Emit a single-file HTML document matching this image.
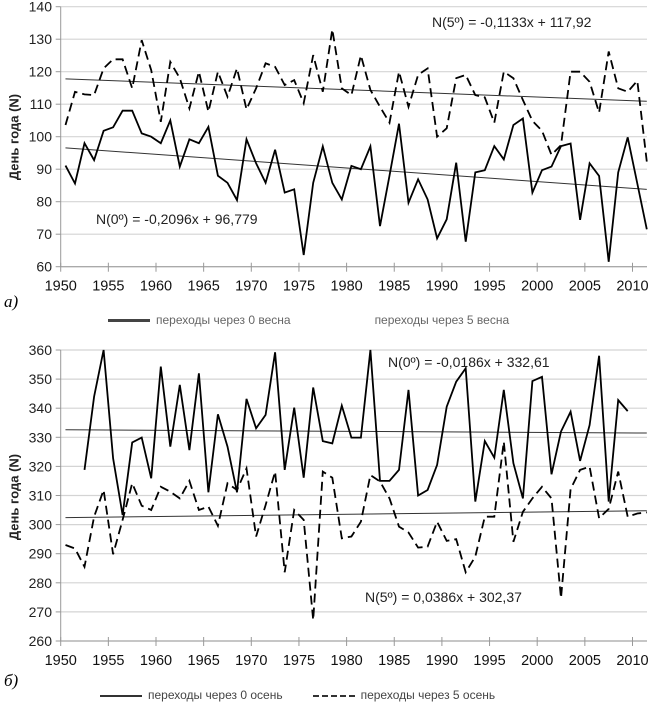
<!DOCTYPE html>
<html><head><meta charset="utf-8"><style>
html,body{margin:0;padding:0;background:#fff;width:655px;height:695px;overflow:hidden}
svg{display:block;font-family:"Liberation Sans",sans-serif}
</style></head><body>
<svg id="c" width="655" height="695"></svg>
<script>
const years=[];for(let y=1950;y<=2011;y++)years.push(y);
const xTicks=[1950,1955,1960,1965,1970,1975,1980,1985,1990,1995,2000,2005,2010];
const topTicks=[60,70,80,90,100,110,120,130,140];
const botTicks=[260,270,280,290,300,310,320,330,340,350,360];
const top0=[91.1,85.6,98,92.8,101.8,102.9,108,108,101,100,98,105,90.8,99.2,98,103,88,85.8,80.5,99.2,91.8,85.8,96,82.8,83.8,63.6,85.8,97,85.8,80.7,91,90,97,72.5,88,104,79.7,86.9,80.7,68.7,74.6,92,67.7,89,89.7,97.1,93,103.6,105.6,82.8,89.7,90.8,97.1,97.9,74.4,91.8,87.9,61.5,89,99.8,85.6,71.5];
const top5=[103.6,113.8,113,112.8,121,123.8,123.8,114.9,129.7,120.5,104.6,123,118,108.7,120,107.7,120,112.3,121,108.4,114.9,122.6,121.5,115.9,117.4,110.3,125.1,113.8,133,114.9,112.8,125,114.4,109.2,104.3,120,109.2,119,121,100,102.6,118,119,112.8,112.1,104.3,120,118,111.3,104.9,101.8,94.4,97.4,120,120,116.9,107.4,126.2,114.9,113.8,117.2,92.3];
const bot0=[null,null,318.8,344,360,322.8,303.3,328.2,329.9,315.9,354.3,326.8,348,325.6,352,311.1,337.9,326.8,311.1,343.2,333.1,337.7,359.2,318.8,340.2,316.1,347.1,328.7,327.9,340.9,329.9,329.9,360,315,315,318.8,346.3,310,311.9,320.5,340.5,349.1,353.7,307.9,328.7,323,346.3,321.1,309,349.3,350.8,317.3,332,338.8,321.9,334.2,358,307.9,342.8,339,null,null];
const bot5=[293,291.8,285.5,302.7,311.9,289.8,301.6,314.2,306.5,305,313,311.3,309,315,305,306.2,299.6,314.2,311.9,319.3,295.9,306.7,318.2,283.6,305,301.6,267.2,318.2,316.1,295.3,295.9,301,317,314.8,309,299.3,297.3,292.1,292.4,301,294.4,295,283.6,289,302.7,302.7,328.5,294.1,304.4,309,313,309,274.7,312.2,318.8,319.9,302.2,305.4,318.2,302.7,303.8,304.2];
const trends={top0:[-0.2096,96.779],top5:[-0.1133,117.92],bot0:[-0.0186,332.61],bot5:[0.0386,302.37]};

const NS="http://www.w3.org/2000/svg";const svg=document.getElementById('c');
function el(t,a,p){const e=document.createElementNS(NS,t);for(const k in a)e.setAttribute(k,a[k]);(p||svg).appendChild(e);return e;}
const X0=60.7,XS=9.53,XEND=647;
const xTick=y=>X0+(y-1950)*XS;
const xPt=i=>X0+XS/2+i*XS;

function panel(name,yTop,yBot,vMin,vMax,ticks,s0,s5,t0,t5,eqs){
  const g=el('g',{});
  const yv=v=>yBot-(v-vMin)/(vMax-vMin)*(yBot-yTop);
  ticks.forEach(t=>{
    const l=el('line',{x1:X0,x2:XEND,y1:yv(t),y2:yv(t),stroke:'#d4d4d4','stroke-width':1.2},g);
    
    const k=el('line',{x1:X0-5,x2:X0,y1:yv(t),y2:yv(t),stroke:'#999'},g);
    
    const tx=el('text',{x:52,y:yv(t)+5,'text-anchor':'end','font-size':14,fill:'#222'},g);tx.textContent=t;
    
  });
  const ax=el('line',{x1:X0,x2:X0,y1:yTop,y2:yBot,stroke:'#999'},g);
  
  const xa=el('line',{x1:X0,x2:XEND,y1:yBot,y2:yBot,stroke:'#999'},g);
  
  xTicks.forEach(y=>{
    const k=el('line',{x1:xTick(y),x2:xTick(y),y1:yBot-4,y2:yBot+5,stroke:'#999'},g);
    
    const tx=el('text',{x:xTick(y),y:yBot+24,'text-anchor':'middle','font-size':14.5,fill:'#111'},g);tx.textContent=y;
    
  });
  function tl(tr,nm){const [a,b]=tr;const i0=0,i1=years.length-1;
    const l=el('line',{x1:xPt(i0),y1:yv(a*(i0+1)+b),x2:xPt(i1),y2:yv(a*(i1+1)+b),stroke:'#333','stroke-width':1},g);
    }
  tl(t0,'trend-line-0');tl(t5,'trend-line-5');
  function ser(d,nm,dash){let p='',m=true;d.forEach((v,i)=>{if(v==null){m=true;return;}p+=(m?'M':'L')+xPt(i).toFixed(1)+' '+yv(v).toFixed(1)+' ';m=false;});
    const a={d:p,fill:'none',stroke:'#000','stroke-width':1.8,'stroke-linejoin':'miter'};if(dash)a['stroke-dasharray']='9 5';
    const e=el('path',a,g);}
  ser(s5,'series-5-deg',true);ser(s0,'series-0-deg',false);
  eqs.forEach(q=>{const t=el('text',{x:q[0],y:q[1],'font-size':14,fill:'#222'},g);t.textContent=q[2];
    });
}
panel('panel-a',6.7,266.7,60,140,topTicks,top0,top5,trends.top0,trends.top5,[[96,224,'N(0º) = -0,2096x + 96,779'],[432,27,'N(5º) = -0,1133x + 117,92']]);
panel('panel-b',350,641,260,360,botTicks,bot0,bot5,trends.bot0,trends.bot5,[[388,367,'N(0º) = -0,0186x + 332,61'],[365,602,'N(5º) = 0,0386x + 302,37']]);
</script>
<div style="position:absolute;left:0;top:0;width:655px;height:695px;pointer-events:none">
<div style="position:absolute;left:14px;top:137px;transform:translate(-50%,-50%) rotate(-90deg);white-space:nowrap;font:bold 13px 'Liberation Sans',sans-serif;color:#222">День года (N)</div>
<div style="position:absolute;left:14px;top:497px;transform:translate(-50%,-50%) rotate(-90deg);white-space:nowrap;font:bold 13px 'Liberation Sans',sans-serif;color:#222">День года (N)</div>
<div style="position:absolute;left:4px;top:292px;font:italic 17px 'Liberation Serif',serif">а)</div>
<div style="position:absolute;left:4px;top:671px;font:italic 17px 'Liberation Serif',serif">б)</div>
<div style="position:absolute;left:108px;top:313px;font:12px 'Liberation Sans',sans-serif;color:#666;white-space:nowrap">
<span style="display:inline-block;width:42px;border-top:3px solid #444;vertical-align:middle;margin-right:6px"></span>переходы через 0 весна<span style="display:inline-block;width:84px"></span>переходы через 5 весна</div>
<div style="position:absolute;left:100px;top:688px;font:12px 'Liberation Sans',sans-serif;color:#444;white-space:nowrap">
<span style="display:inline-block;width:42px;border-top:2px solid #333;vertical-align:middle;margin-right:6px"></span>переходы через 0 осень<span style="display:inline-block;width:30px"></span><span style="display:inline-block;width:42px;border-top:2px dashed #333;vertical-align:middle;margin-right:6px"></span>переходы через 5 осень</div>
</div>
</body></html>
